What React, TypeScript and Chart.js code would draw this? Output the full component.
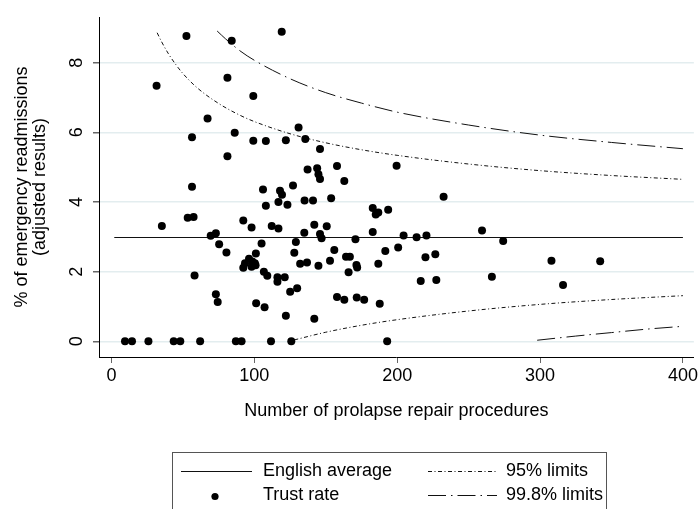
import React, { useEffect, useRef } from 'react';
import { Chart, registerables } from 'chart.js';

Chart.register(...registerables);

const FONT = '"Liberation Sans", Arial, Helvetica, sans-serif';

const xTicks = [0, 100, 200, 300, 400];
const yTicks = [0, 2, 4, 6, 8];

const xTitle = 'Number of prolapse repair procedures';
const yTitle = ['% of emergency readmissions', '(adjusted results)'];

const legendLabels = ['English average', 'Trust rate', '95% limits', '99.8% limits'];

// Trust points: number of procedures and adjusted readmission rate (%)
const trustN = [
  9.5, 14.4, 25.9, 43.6, 48.2, 62.1, 87.1, 91.1, 111.7, 125.9, 193.0,
  52.5, 84.2, 119.2, 81.2, 31.6, 99.3, 67.3, 131.0, 86.3, 56.4,
  99.3, 108.1, 122.1, 135.7, 146.0, 81.2, 137.3, 144.0, 144.9, 146.0,
  157.9, 163.0, 199.6, 232.5, 56.4, 106.1, 118.0, 119.4, 127.1, 135.2,
  141.1, 153.8, 108.1, 116.9, 123.2, 182.9, 186.8, 185.0, 193.7, 53.4,
  57.5, 35.3, 92.3, 98.1, 112.2, 116.9, 142.0, 150.7, 69.5, 73.1,
  135.0, 146.0, 147.1, 182.9, 204.5, 213.6, 220.5, 259.4, 274.2, 75.4,
  105.1, 129.1, 170.8, 80.5, 101.1, 128.0, 156.0, 164.2, 166.9, 191.7,
  200.7, 219.8, 226.7, 308.0, 342.1, 93.5, 96.3, 98.6, 100.4, 92.3,
  98.1, 100.9, 132.1, 136.9, 144.9, 153.0, 171.5, 172.0, 166.0, 186.8,
  58.2, 106.7, 109.1, 116.2, 116.2, 121.3, 216.5, 227.4, 266.3, 316.1,
  125.1, 130.0, 73.1, 74.4, 157.9, 163.0, 171.7, 176.9, 187.8, 101.3,
  107.2, 122.1, 142.0,
];
const trustRate = [
  0, 0, 0, 0, 0, 0, 0, 0, 0, 0, 0,
  8.77, 8.63, 8.89, 7.57, 7.34, 7.04, 6.40, 6.14, 5.99, 5.86,
  5.76, 5.75, 5.77, 5.81, 5.52, 5.31, 4.93, 4.97, 4.80, 4.66,
  5.03, 4.60, 5.04, 4.15, 4.44, 4.36, 4.32, 4.21, 4.47, 4.04,
  4.04, 4.11, 3.89, 4.00, 3.92, 3.83, 3.70, 3.64, 3.78, 3.55,
  3.57, 3.31, 3.47, 3.27, 3.31, 3.24, 3.35, 3.30, 3.03, 3.10,
  3.12, 3.08, 2.96, 3.14, 3.04, 2.99, 3.04, 3.18, 2.88, 2.79,
  2.81, 2.85, 2.93, 2.55, 2.52, 2.54, 2.62, 2.43, 2.43, 2.59,
  2.69, 2.41, 2.50, 2.31, 2.30, 2.24, 2.37, 2.29, 2.24, 2.11,
  2.14, 2.18, 2.23, 2.26, 2.17, 2.31, 2.19, 2.12, 1.98, 2.23,
  1.89, 2.00, 1.88, 1.84, 1.71, 1.84, 1.73, 1.76, 1.85, 1.62,
  1.42, 1.52, 1.35, 1.13, 1.27, 1.19, 1.26, 1.19, 1.08, 1.09,
  0.98, 0.73, 0.65,
];

// English average
const avgN = [2, 400];
const avgRate = [2.98, 2.98];

// 95% limits
const upper95N = [32, 35, 40, 45, 50, 60, 75, 90, 100, 125, 150, 175, 200, 250, 300, 350, 400];
const upper95 = [8.86, 8.61, 8.25, 7.95, 7.69, 7.28, 6.83, 6.49, 6.31, 5.96, 5.70, 5.50, 5.34, 5.09, 4.90, 4.76, 4.65];
const lower95N = [128, 150, 175, 200, 250, 300, 350, 400];
const lower95 = [0.04, 0.26, 0.46, 0.62, 0.87, 1.06, 1.20, 1.31];

// 99.8% limits
const upper998N = [74, 80, 90, 100, 125, 150, 175, 200, 250, 300, 350, 400];
const upper998 = [8.91, 8.68, 8.34, 8.07, 7.54, 7.14, 6.84, 6.58, 6.21, 5.92, 5.71, 5.53];
const lower998N = [298, 325, 350, 375, 400];
const lower998 = [0.03, 0.15, 0.25, 0.35, 0.43];

const DASH95 = [4, 2.5, 1, 2.5];
const DASH998 = [18, 5, 1.5, 5];

const pts = (xs: number[], ys: number[]) => xs.map((x, i) => ({ x, y: ys[i] }));

const lineDs = (label: string, xs: number[], ys: number[], dash: number[]) => ({
  type: 'line' as const,
  label,
  data: pts(xs, ys),
  showLine: true,
  borderColor: '#111',
  borderWidth: 1,
  borderDash: dash,
  pointRadius: 0,
  cubicInterpolationMode: 'monotone' as const,
  fill: false,
});

const overlayPlugin = {
  id: 'stataOverlay',
  afterDraw(chart: any) {
    const ctx = chart.ctx as CanvasRenderingContext2D;
    const y = chart.scales.y;
    ctx.save();
    // rotated y tick labels
    ctx.fillStyle = '#000';
    ctx.font = `18px ${FONT}`;
    ctx.textAlign = 'center';
    ctx.textBaseline = 'alphabetic';
    yTicks.forEach((v) => {
      const py = y.getPixelForValue(v);
      ctx.save();
      ctx.translate(82, py);
      ctx.rotate(-Math.PI / 2);
      ctx.fillText(String(v), 0, 0);
      ctx.restore();
    });

    // legend box
    ctx.strokeStyle = '#555';
    ctx.lineWidth = 1;
    ctx.strokeRect(172.5, 452.5, 434, 80);

    const r1 = 471.5;
    const r2 = 495.5;
    ctx.strokeStyle = '#111';
    ctx.setLineDash([]);
    ctx.beginPath();
    ctx.moveTo(181, r1);
    ctx.lineTo(252, r1);
    ctx.stroke();

    ctx.fillStyle = '#000';
    ctx.beginPath();
    ctx.arc(215, r2 + 1, 3.6, 0, Math.PI * 2);
    ctx.fill();

    ctx.setLineDash(DASH95);
    ctx.beginPath();
    ctx.moveTo(428, r1);
    ctx.lineTo(497, r1);
    ctx.stroke();

    ctx.setLineDash(DASH998);
    ctx.beginPath();
    ctx.moveTo(428, r2);
    ctx.lineTo(497, r2);
    ctx.stroke();
    ctx.setLineDash([]);

    ctx.textAlign = 'left';
    ctx.textBaseline = 'middle';
    ctx.fillText(legendLabels[0], 263, r1);
    ctx.fillText(legendLabels[1], 263, r2);
    ctx.fillText(legendLabels[2], 506, r1);
    ctx.fillText(legendLabels[3], 506, r2);
    ctx.restore();
  },
};

export default function App() {
  const ref = useRef<HTMLCanvasElement | null>(null);

  useEffect(() => {
    document.body.style.margin = '0';
    const canvas = ref.current;
    if (!canvas) return;
    const chart = new Chart(canvas, {
      type: 'scatter',
      data: {
        datasets: [
          {
            label: legendLabels[1],
            data: pts(trustN, trustRate),
            backgroundColor: '#000',
            borderWidth: 0,
            pointRadius: 4,
            pointHoverRadius: 4,
          },
          { ...lineDs(legendLabels[0], avgN, avgRate, []), cubicInterpolationMode: 'default' as const, borderWidth: 1.2 },
          lineDs(legendLabels[2], upper95N, upper95, DASH95),
          lineDs(legendLabels[2], lower95N, lower95, DASH95),
          lineDs(legendLabels[3], upper998N, upper998, DASH998),
          lineDs(legendLabels[3], lower998N, lower998, DASH998),
        ] as any,
      },
      options: {
        animation: false,
        responsive: false,
        maintainAspectRatio: false,
        events: [],
        layout: { padding: { left: 0, right: 2, top: 17, bottom: 87 } },
        plugins: {
          legend: { display: false },
          tooltip: { enabled: false },
        },
        scales: {
          x: {
            type: 'linear',
            min: -8.69,
            max: 407.65,
            afterBuildTicks: (s: any) => {
              s.ticks = xTicks.map((v) => ({ value: v }));
            },
            afterFit: (s: any) => {
              s.height = 65;
            },
            grid: {
              drawOnChartArea: false,
              drawTicks: true,
              tickLength: 6,
              tickColor: '#666',
            },
            border: { display: true, color: '#000', width: 1 },
            ticks: {
              color: '#000',
              padding: 2,
              maxRotation: 0,
              minRotation: 0,
              autoSkip: false,
              font: { family: FONT, size: 18 },
            },
            title: {
              display: true,
              text: xTitle,
              color: '#000',
              padding: { top: 0, bottom: 0 },
              font: { family: FONT, size: 18, lineHeight: 1.2 },
            },
          },
          y: {
            type: 'linear',
            min: -0.451,
            max: 9.312,
            afterBuildTicks: (s: any) => {
              s.ticks = yTicks.map((v) => ({ value: v }));
            },
            afterFit: (s: any) => {
              s.width = 99;
            },
            grid: {
              drawOnChartArea: true,
              color: '#e3edef',
              lineWidth: 1.5,
              drawTicks: true,
              tickLength: 6,
              tickColor: '#666',
            },
            border: { display: true, color: '#000', width: 1 },
            ticks: {
              color: 'rgba(0,0,0,0)',
              font: { family: FONT, size: 18 },
            },
            title: {
              display: true,
              text: yTitle,
              color: '#000',
              padding: { top: 13, bottom: 0 },
              font: { family: FONT, size: 18, lineHeight: 1.0 },
            },
          },
        },
      } as any,
      plugins: [overlayPlugin],
    });
    return () => chart.destroy();
  }, []);

  return (
    <div style={{ width: 700, height: 509, position: 'relative', background: '#fff' }}>
      <canvas ref={ref} width={700} height={509} style={{ display: 'block', width: 700, height: 509 }} />
    </div>
  );
}
